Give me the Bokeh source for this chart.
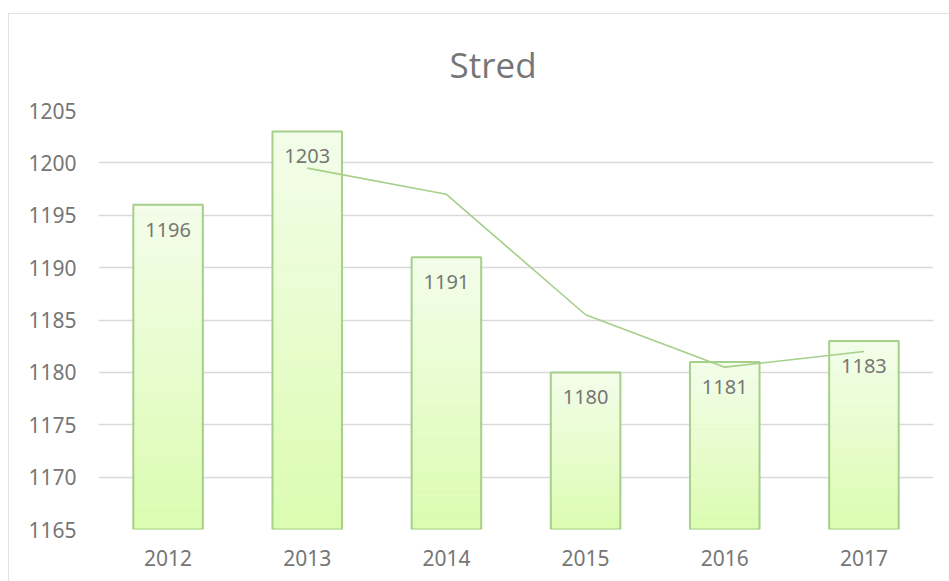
import numpy as np
from bokeh.plotting import figure
from bokeh.models import FactorRange, Range1d, FixedTicker, ColumnDataSource, LabelSet
from bokeh.core.properties import value
from bokeh.embed import file_html
from bokeh.resources import INLINE

years = ["2012", "2013", "2014", "2015", "2016", "2017"]
values = [1196, 1203, 1191, 1180, 1181, 1183]
trend_years = ["2013", "2014", "2015", "2016", "2017"]
trend_values = [1199.5, 1197, 1185.5, 1180.5, 1182]
y_ticks = [1165, 1170, 1175, 1180, 1185, 1190, 1195, 1200, 1205]
title_text = "Stred"

Y0, Y1 = 1165, 1205
GRAY = "#767676"
FONT = "Noto Sans"

p = figure(x_range=FactorRange(*years), y_range=Range1d(Y0, Y1),
           width=941, height=568, output_backend="svg", toolbar_location=None,
           min_border_left=90, min_border_right=16, min_border_top=97, min_border_bottom=52)
p.styles = {"margin": "13px 0px 0px 8px", "outline": "2px solid #d9d9d9", "outline-offset": "-2px"}
p.outline_line_color = None
p.background_fill_color = "white"
p.border_fill_color = "white"

p.title.text = title_text
p.title.align = "left"
p.title.offset = 351
p.title.standoff = 46
p.title.text_font = "Open Sans"
p.title.text_font_size = "35px"
p.title.text_font_style = "normal"
p.title.text_color = GRAY

# gradient bars: built from data values
N = 40
top_col = np.array([0xf3, 0xfd, 0xea])
bot_col = np.array([0xdb, 0xfc, 0xb0])
gx, gt, gb, gc = [], [], [], []
for yr, v in zip(years, values):
    edges = np.linspace(Y0, v, N + 1)
    for i in range(N):
        t = (i + 0.5) / N
        c = bot_col + (top_col - bot_col) * t
        gx.append(yr)
        gb.append(edges[i])
        gt.append(edges[i + 1])
        gc.append("#%02x%02x%02x" % tuple(int(round(a)) for a in c))
p.vbar(x=gx, top=gt, bottom=gb, width=0.5, fill_color=gc, line_color=gc, line_width=0.5)

src = ColumnDataSource(dict(x=years, top=values, lab=[str(v) for v in values]))
p.vbar(x="x", top="top", bottom=Y0, width=0.5, source=src, fill_alpha=0,
       line_color="#a6cf8a", line_width=2)

p.line(x=trend_years, y=trend_values, line_color="#a6cf8a", line_width=1.6)

labels = LabelSet(x="x", y="top", text="lab", source=src, text_align="center",
                  text_baseline="top", y_offset=-18, text_font=value(FONT),
                  text_font_size="20px", text_color=GRAY)
p.add_layout(labels)

p.yaxis.ticker = FixedTicker(ticks=y_ticks)
p.ygrid.ticker = FixedTicker(ticks=y_ticks)
p.ygrid.grid_line_color = "#d9d9d9"
p.ygrid.grid_line_width = 1.3
p.xgrid.grid_line_color = None

for ax in (p.xaxis, p.yaxis):
    ax.axis_line_color = None
    ax.major_tick_line_color = None
    ax.minor_tick_line_color = None
    ax.major_label_text_font = FONT
    ax.major_label_text_font_size = "21px"
    ax.major_label_text_color = GRAY
p.yaxis.major_label_standoff = 16
p.xaxis.major_label_standoff = 14

open("out.html", "w").write(file_html(p, INLINE))
